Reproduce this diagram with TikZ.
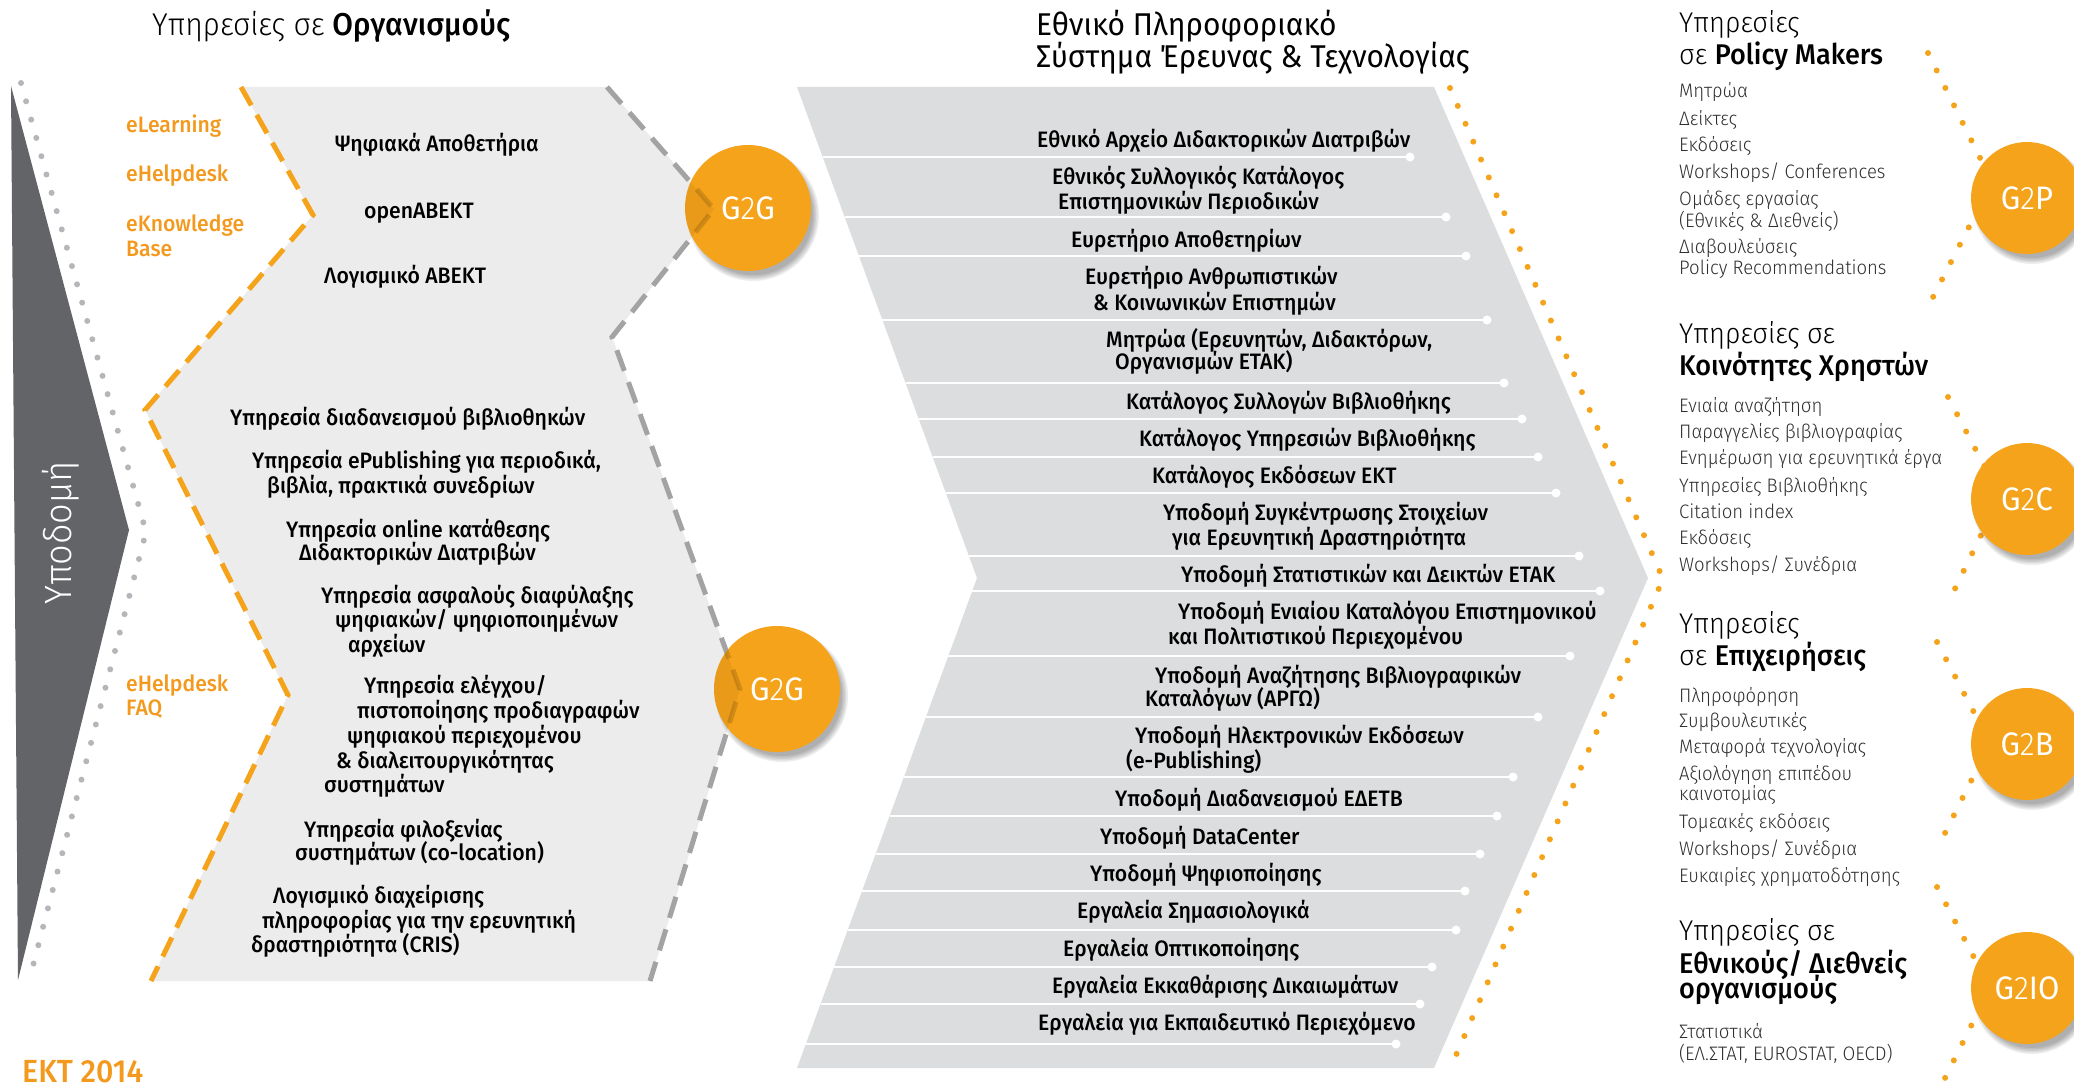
\documentclass[tikz,border=0pt]{standalone}
\usepackage{fontspec}
\setmainfont{Fira Sans}[FakeStretch=0.95]
\newfontfamily\lightf{Fira Sans Light}[FakeStretch=0.95]
\newfontfamily\medf{Fira Sans Medium}[FakeStretch=0.95]
\definecolor{ekorange}{HTML}{F5A31A}
\definecolor{ektext}{HTML}{F39A1E}
\definecolor{darkg}{HTML}{636467}
\definecolor{midg}{HTML}{DCDDDE}
\definecolor{lightg}{HTML}{ECECEC}
\definecolor{dashg}{HTML}{A3A3A3}
\definecolor{dotg}{HTML}{B5B6B9}
\definecolor{listc}{HTML}{2E2E2E}
\tikzset{
  tb/.style={anchor=base west, inner sep=0pt, font=\medf\fontsize{22.3}{25}\selectfont},
  tl/.style={anchor=base west, inner sep=0pt, font=\lightf\fontsize{19.5}{22}\selectfont, text=listc},
  th/.style={anchor=base west, inner sep=0pt, font=\lightf\fontsize{28.5}{32}\selectfont},
  tor/.style={anchor=base west, inner sep=0pt, font=\medf\fontsize{22.3}{25}\selectfont, text=ektext},
  odash/.style={draw=ekorange, line width=5pt, dash pattern=on 21pt off 11pt},
  gdash/.style={draw=dashg, line width=5pt, dash pattern=on 22pt off 12pt},
  odots/.style={draw=ekorange, line width=6pt, line cap=round, dash pattern=on 0pt off 19.5pt},
  gdots/.style={draw=dotg, line width=6pt, line cap=round, dash pattern=on 0pt off 19pt},
  sepline/.style={draw=white, line width=2.5pt},
  gcirc/.style={circle, fill=ekorange, inner sep=0pt, text=white, font=\fontsize{32.5}{34}\selectfont},
}
\newcommand\ektshadow[3]{%
  \foreach \k in {3,1.5,0,-1.5,-3} \fill[black,opacity=0.07] (#1+5,#2+7) circle (#3+\k);%
}
\begin{document}
\begin{tikzpicture}[x=1pt,y=-1pt]
\clip (0,0) rectangle (2074,1089);
\fill[white] (0,0) rectangle (2074,1089);

% ---------- left part ----------
\fill[lightg] (241,87) -- (607,87) -- (714,209) -- (612,337) -- (740,689) -- (650,981) -- (151,981) -- (288,695) -- (145,410) -- (313,215) -- cycle;
\fill[darkg] (11,86) -- (129,530) -- (18,980) -- cycle;
\draw[gdots] (21,83) -- (146,532) -- (29,981);
\draw[odash] (241,87) -- (313,215) -- (145,410) -- (288,695) -- (151,981);
\draw[gdash] (607,87) -- (714,209) -- (612,337) -- (740,689) -- (650,981);

\node[rotate=90, anchor=base, inner sep=0pt, text=white, font=\lightf\fontsize{38}{40}\selectfont] (ypo) at (71,533) {Υποδομή};

\node[anchor=base west, inner sep=0pt, font=\fontsize{31.5}{36}\selectfont] (title1) at (152,36) {{\lightf Υπηρεσίες σε} {\medf Οργανισμούς}};

\foreach \x/\y/\t [count=\i] in {126/133/{eLearning}, 126/181/{eHelpdesk}, 126/231/{eKnowledge}, 126/256/{Base}, 126/691/{eHelpdesk}, 126/715/{FAQ}}
  \node[tor] (o\i) at (\x,\y) {\t};

\foreach \x/\y/\t [count=\i] in {
  335/152/{Ψηφιακά Αποθετήρια},
  364/218/{openΑΒΕΚΤ},
  324/283/{Λογισμικό ΑΒΕΚΤ},
  230/425/{Υπηρεσία διαδανεισμού βιβλιοθηκών},
  252/468/{Υπηρεσία ePublishing για περιοδικά,},
  267/493/{βιβλία, πρακτικά συνεδρίων},
  286/537/{Υπηρεσία online κατάθεσης},
  299/560/{Διδακτορικών Διατριβών},
  321/603/{Υπηρεσία ασφαλούς διαφύλαξης},
  335/627/{ψηφιακών/ ψηφιοποιημένων},
  348/652/{αρχείων},
  364/693/{Υπηρεσία ελέγχου/},
  357/718/{πιστοποίησης προδιαγραφών},
  347/743/{ψηφιακού περιεχομένου},
  336/768/{\& διαλειτουργικότητας},
  324/792/{συστημάτων},
  304/837/{Υπηρεσία φιλοξενίας},
  295/860/{συστημάτων (co-location)},
  273/903/{Λογισμικό διαχείρισης},
  262/928/{πληροφορίας για την ερευνητική},
  251/952/{δραστηριότητα (CRIS)}}
  \node[tb] (L\i) at (\x,\y) {\t};

\node[anchor=base west, inner sep=0pt, text=ektext, font=\medf\fontsize{32}{34}\selectfont] (ekt) at (22,1082) {ΕΚΤ 2014};

% ---------- middle part ----------
\fill[midg] (797,87) -- (1434,87) -- (1648,578) -- (1434,1068) -- (797,1068) -- (977,578) -- cycle;
\foreach \y/\xa/\xb in {157/823/1410, 217/845/1446, 256/859/1466, 320/882/1487, 383/906/1504, 419/919/1522, 457/933/1538, 493/946/1556, 556/969/1579, 591/972/1600, 656/948/1570, 717/926/1538, 777/904/1513, 816/890/1497, 854/876/1480, 891/862/1465, 930/848/1456, 967/834/1432, 1004/821/1420, 1044/806/1396}
{
  \draw[sepline] (\xa,\y) -- (\xb,\y);
  \fill[white] (\xb,\y) circle (4.5);
}
\draw[odots] (1450,88) -- (1663,579) -- (1450,1069);

\node[anchor=base west, inner sep=0pt, font=\fontsize{31.5}{36}\selectfont] (title2a) at (1036,36) {Εθνικό Πληροφοριακό};
\node[anchor=base west, inner sep=0pt, font=\fontsize{31.5}{36}\selectfont] (title2b) at (1036,68) {Σύστημα Έρευνας \& Τεχνολογίας};

\foreach \x/\y/\t [count=\i] in {
  1037/147/{Εθνικό Αρχείο Διδακτορικών Διατριβών},
  1052/184/{Εθνικός Συλλογικός Κατάλογος},
  1058/209/{Επιστημονικών Περιοδικών},
  1071/247/{Ευρετήριο Αποθετηρίων},
  1085/284/{Ευρετήριο Ανθρωπιστικών},
  1093/310/{\& Κοινωνικών Επιστημών},
  1106/347/{Μητρώα (Ερευνητών, Διδακτόρων,},
  1115/369/{Οργανισμών ΕΤΑΚ)},
  1126/409/{Κατάλογος Συλλογών Βιβλιοθήκης},
  1139/446/{Κατάλογος Υπηρεσιών Βιβλιοθήκης},
  1152/483/{Κατάλογος Εκδόσεων ΕΚΤ},
  1163/520/{Υποδομή Συγκέντρωσης Στοιχείων},
  1172/545/{για Ερευνητική Δραστηριότητα},
  1181/582/{Υποδομή Στατιστικών και Δεικτών ΕΤΑΚ},
  1178/619/{Υποδομή Ενιαίου Καταλόγου Επιστημονικού},
  1168/644/{και Πολιτιστικού Περιεχομένου},
  1155/683/{Υποδομή Αναζήτησης Βιβλιογραφικών},
  1145/706/{Καταλόγων (ΑΡΓΩ)},
  1135/743/{Υποδομή Ηλεκτρονικών Εκδόσεων},
  1126/768/{(e-Publishing)},
  1115/806/{Υποδομή Διαδανεισμού ΕΔΕΤΒ},
  1100/844/{Υποδομή DataCenter},
  1090/881/{Υποδομή Ψηφιοποίησης},
  1077/918/{Εργαλεία Σημασιολογικά},
  1063/956/{Εργαλεία Οπτικοποίησης},
  1052/993/{Εργαλεία Εκκαθάρισης Δικαιωμάτων},
  1038/1030/{Εργαλεία για Εκπαιδευτικό Περιεχόμενο}}
  \node[tb] (M\i) at (\x,\y) {\t};

% ---------- G2G circles ----------
\ektshadow{748}{208}{63}
\node[gcirc, minimum size=126pt] (g2ga) at (748,208) {};
\ektshadow{777}{689}{63}
\node[gcirc, minimum size=126pt] (g2gb) at (777,689) {};
\begin{scope}
  \clip (748,208) circle (63);
  \fill[black, opacity=0.05] (241,87) -- (607,87) -- (714,209) -- (612,337) -- (740,689) -- (650,981) -- (151,981) -- (288,695) -- (145,410) -- (313,215) -- cycle;
  \draw[gdash, draw=black, opacity=0.14] (607,87) -- (714,209) -- (612,337) -- (740,689) -- (650,981);
\end{scope}
\begin{scope}
  \clip (777,689) circle (63);
  \fill[black, opacity=0.05] (241,87) -- (607,87) -- (714,209) -- (612,337) -- (740,689) -- (650,981) -- (151,981) -- (288,695) -- (145,410) -- (313,215) -- cycle;
  \draw[gdash, draw=black, opacity=0.14] (607,87) -- (714,209) -- (612,337) -- (740,689) -- (650,981);
\end{scope}
\node[gcirc, minimum size=0pt, fill=none] (g2gat) at (748,208) {G{\lightf 2}G};
\node[gcirc, minimum size=0pt, fill=none] (g2gbt) at (777,689) {G{\lightf 2}G};

% ---------- right part ----------
\draw[odots] (1928,53) -- (1992,182) -- (1931,301);
\draw[odots] (1948,397) -- (2000,496) -- (1949,601);
\draw[odots] (1937,642) -- (1990,743) -- (1939,845);
\draw[odots] (1937,887) -- (1990,988) -- (1939,1090);

\ektshadow{2027}{198}{56}
\node[gcirc, minimum size=112pt] (g2p) at (2027,198) {G{\lightf 2}P};
\ektshadow{2027}{499}{56}
\node[gcirc, minimum size=112pt] (g2c) at (2027,499) {G{\lightf 2}C};
\ektshadow{2027}{744}{56}
\node[gcirc, minimum size=112pt] (g2b) at (2027,744) {G{\lightf 2}B};
\ektshadow{2027}{988}{56}
\node[gcirc, minimum size=112pt] (g2io) at (2027,988) {G{\lightf 2}IO};

\node[th] (h1a) at (1679,33) {Υπηρεσίες};
\node[th] (h1b) at (1679,65) {σε {\medf Policy Makers}};
\node[th] (h2a) at (1679,343) {Υπηρεσίες σε};
\node[th] (h2b) at (1679,375) {\medf Κοινότητες Χρηστών};
\node[th] (h3a) at (1679,633) {Υπηρεσίες};
\node[th] (h3b) at (1679,665) {σε {\medf Επιχειρήσεις}};
\node[th] (h4a) at (1679,940) {Υπηρεσίες σε};
\node[th] (h4b) at (1679,973) {\medf Εθνικούς/ Διεθνείς};
\node[th] (h4c) at (1679,998) {\medf οργανισμούς};

\foreach \y/\t [count=\i] in {
  98/{Μητρώα}, 125/{Δείκτες}, 152/{Εκδόσεις}, 178/{Workshops/ Conferences},
  205/{Ομάδες εργασίας}, 227/{(Εθνικές \& Διεθνείς)}, 253/{Διαβουλεύσεις}, 274/{Policy Recommendations},
  412/{Ενιαία αναζήτηση}, 438/{Παραγγελίες βιβλιογραφίας}, 464/{Ενημέρωση για ερευνητικά έργα},
  492/{Υπηρεσίες Βιβλιοθήκης}, 518/{Citation index}, 544/{Εκδόσεις}, 571/{Workshops/ Συνέδρια},
  702/{Πληροφόρηση}, 727/{Συμβουλευτικές}, 753/{Μεταφορά τεχνολογίας}, 780/{Αξιολόγηση επιπέδου},
  800/{καινοτομίας}, 828/{Τομεακές εκδόσεις}, 855/{Workshops/ Συνέδρια}, 882/{Ευκαιρίες χρηματοδότησης},
  1038/{Στατιστικά}, 1060/{(ΕΛ.ΣΤΑΤ, EUROSTAT, OECD)}}
  \node[tl] (R\i) at (1679,\y) {\t};
\end{tikzpicture}
\end{document}
